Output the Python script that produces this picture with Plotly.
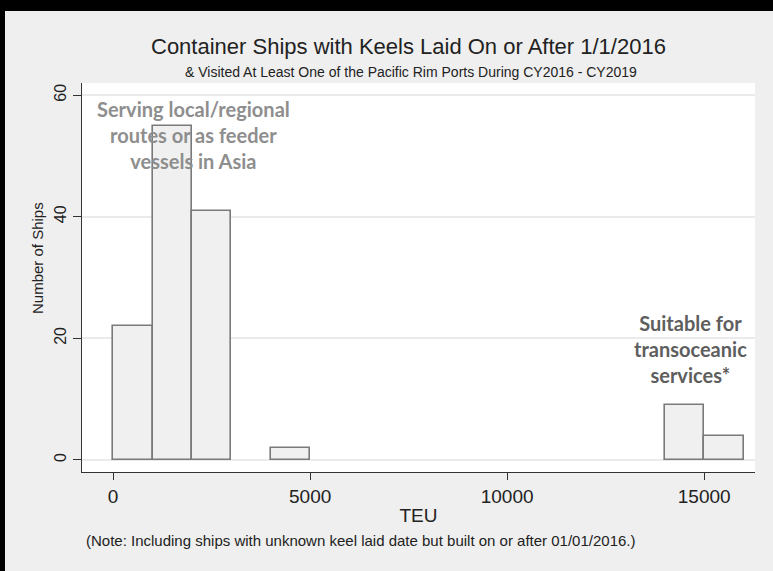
import plotly.graph_objects as go

# histogram of container ship sizes (bin width 1000 TEU)
bin_left = [0, 1000, 2000, 4000, 14000, 15000]
ship_counts = [22, 55, 41, 2, 9, 4]
bin_width = 1000

y_ticks = [0, 20, 40, 60]
x_ticks = [0, 5000, 10000, 15000]

W, H = 773, 571
L, R, T, B = 82, 18, 83, 99
plot_h = H - T - B
plot_w = W - L - R


def py(pix):
    # pixel row -> paper y
    return (H - B - pix) / plot_h


def px(pix):
    # pixel column -> paper x
    return (pix - L) / plot_w


fig = go.Figure()
fig.add_trace(go.Bar(
    x=[b + bin_width / 2 for b in bin_left],
    y=ship_counts,
    width=bin_width,
    marker=dict(color="#f0f0f0", line=dict(color="#7a7a7a", width=1.6)),
    hoverinfo="x+y",
))

fig.update_layout(
    width=W, height=H,
    margin=dict(l=L, r=R, t=T, b=B),
    paper_bgcolor="#efefef",
    plot_bgcolor="#ffffff",
    font=dict(family="Liberation Sans, Arial, sans-serif", color="#222222"),
    showlegend=False,
    bargap=0,
    xaxis=dict(
        range=[-790, 16290],
        tickvals=x_ticks,
        tickformat="d",
        ticks="outside", ticklen=7, tickcolor="#333333",
        showline=True, linecolor="#333333", linewidth=1.3,
        showgrid=False, zeroline=False,
        tickfont=dict(size=19),
        title=dict(text="TEU", font=dict(size=19), standoff=2),
    ),
    yaxis=dict(
        range=[-1.98, 62],
        tickvals=y_ticks,
        tickangle=-90,
        ticks="outside", ticklen=8, tickcolor="#333333",
        showline=True, linecolor="#333333", linewidth=1.3,
        showgrid=True, gridcolor="#ebebeb", gridwidth=2,
        zeroline=False,
        tickfont=dict(size=16),
    ),
)

# titles, y-axis title and note
fig.add_annotation(text="Container Ships with Keels Laid On or After 1/1/2016",
                   xref="paper", yref="paper", x=px(408), y=py(47), yanchor="middle",
                   showarrow=False, font=dict(size=22, color="#222222"))
fig.add_annotation(text="& Visited At Least One of the Pacific Rim Ports During CY2016 - CY2019",
                   xref="paper", yref="paper", x=px(411), y=py(72), yanchor="middle",
                   showarrow=False, font=dict(size=14, color="#222222"))
fig.add_annotation(text="Number of Ships",
                   xref="paper", yref="paper", x=px(37), y=py(258),
                   xanchor="center", yanchor="middle", textangle=-90,
                   showarrow=False, font=dict(size=15, color="#222222"))
fig.add_annotation(text="(Note: Including ships with unknown keel laid date but built on or after 01/01/2016.)",
                   xref="paper", yref="paper", x=px(84), y=py(540), xanchor="left", yanchor="middle",
                   showarrow=False, font=dict(size=15, color="#222222"))

# callouts
fig.add_annotation(text="Serving local/regional<br>routes or as feeder<br>vessels in Asia",
                   x=2030, y=53.5, showarrow=False,
                   font=dict(family="Lato, Open Sans, sans-serif", size=20, color="#8e8e8e", weight="bold"))
fig.add_annotation(text="Suitable for<br>transoceanic<br>services*",
                   x=14645, y=18.3, showarrow=False,
                   font=dict(family="Lato, Open Sans, sans-serif", size=20, color="#5e5e5e", weight="bold"))

# black frame strips at the top and left of the screenshot
fig.add_shape(type="rect", xref="paper", yref="paper",
              x0=px(0), x1=px(W), y0=py(11), y1=py(0),
              fillcolor="black", line_width=0)
fig.add_shape(type="rect", xref="paper", yref="paper",
              x0=px(0), x1=px(5), y0=py(H), y1=py(0),
              fillcolor="black", line_width=0)

fig.write_html("out.html", config={"displayModeBar": False},
               post_script="document.body.style.margin='0';document.body.style.overflow='hidden';")
